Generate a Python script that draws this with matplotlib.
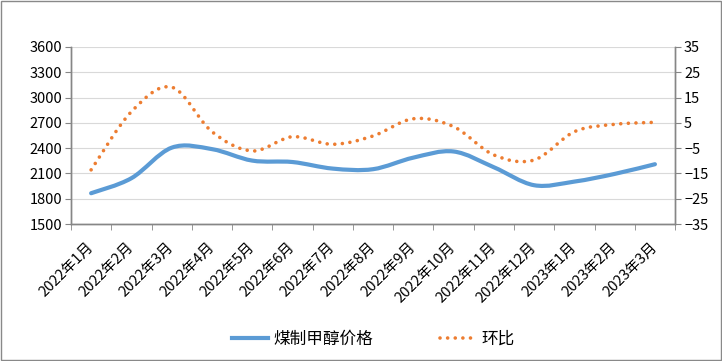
import numpy as np
import matplotlib
matplotlib.use('Agg')
import matplotlib.pyplot as plt
from matplotlib.path import Path
from matplotlib.patches import PathPatch, Rectangle
from matplotlib.lines import Line2D

plt.rcParams['font.family'] = ['Noto Sans CJK SC', 'DejaVu Sans']

# データ
months = ['2022年1月', '2022年2月', '2022年3月', '2022年4月', '2022年5月', '2022年6月',
          '2022年7月', '2022年8月', '2022年9月', '2022年10月', '2022年11月', '2022年12月',
          '2023年1月', '2023年2月', '2023年3月']
price = [1865, 2043, 2405, 2388, 2252, 2235, 2157, 2150, 2287, 2360, 2173, 1960, 2003, 2094, 2209]
mom = [-13.6, 9.4, 19.1, 1.5, -6.1, -0.5, -3.5, -0.2, 6.6, 3.5, -7.7, -9.7, 1.5, 4.4, 5.2]

blue = '#5B9BD5'
orange = '#ED7D31'
grey = '#868686'


def smooth_path(x, y):
    # Excel風のスムージング線 (Catmull-Rom -> Bezier)
    x = np.asarray(x, float)
    y = np.asarray(y, float)
    n = len(x)
    verts = [(x[0], y[0])]
    codes = [Path.MOVETO]
    for i in range(n - 1):
        i0 = max(i - 1, 0)
        i3 = min(i + 2, n - 1)
        c1 = (x[i] + (x[i + 1] - x[i0]) / 6, y[i] + (y[i + 1] - y[i0]) / 6)
        c2 = (x[i + 1] - (x[i3] - x[i]) / 6, y[i + 1] - (y[i3] - y[i]) / 6)
        verts += [c1, c2, (x[i + 1], y[i + 1])]
        codes += [Path.CURVE4] * 3
    return Path(verts, codes)


fig = plt.figure(figsize=(7.22, 3.61), dpi=100)
ax = fig.add_axes([0.0983, 0.3795, 0.8367, 0.4905])
ax2 = ax.twinx()

x = np.arange(len(months))

ax.set_xlim(-0.5, len(months) - 0.5)
ax.set_ylim(1500, 3600)
ax.set_yticks(np.arange(1500, 3601, 300))
ax2.set_ylim(-35, 35)
ax2.set_yticks(np.arange(-35, 36, 10))

ax.grid(axis='y', color='#D9D9D9', lw=0.8)
ax.set_axisbelow(True)

dots = (0, (0.01, 2.1))
p1 = PathPatch(smooth_path(x, price), fill=False, edgecolor=blue, lw=3, capstyle='round')
ax.add_patch(p1)
p2 = PathPatch(smooth_path(x, mom), fill=False, edgecolor=orange, lw=2.6,
               linestyle=dots, capstyle='round')
ax2.add_patch(p2)

for a in (ax, ax2):
    a.spines['top'].set_visible(False)
    for s in ('left', 'right', 'bottom'):
        a.spines[s].set_color(grey)
        a.spines[s].set_linewidth(1)

ax.set_xticks(x)
ax.set_xticklabels(months, rotation=45, ha='right', va='center', rotation_mode='anchor')
ax.set_xticks(np.arange(-0.5, len(months), 1), minor=True)
ax.tick_params(axis='x', which='major', length=0, pad=15, labelsize=10.5)
ax.tick_params(axis='x', which='minor', length=4, color=grey)
ax.tick_params(axis='y', length=4.5, color=grey, labelsize=10.5, pad=2)
ax2.tick_params(axis='y', length=4.5, color=grey, labelsize=10.5, pad=2)

handles = [Line2D([], [], color=blue, lw=3),
           Line2D([], [], color=orange, lw=2.6, linestyle=dots, dash_capstyle='round')]
fig.legend(handles, ['煤制甲醇价格', '环比'], loc='center', bbox_to_anchor=(0.517, 0.061),
           ncol=2, frameon=False, fontsize=12, handlelength=2.2, handletextpad=0.3,
           columnspacing=4.0)

fig.patches.append(Rectangle((0.001, 0.002), 0.997, 0.995, transform=fig.transFigure,
                             fill=False, edgecolor='#898989', lw=1))

fig.savefig('out.png', dpi=100)
